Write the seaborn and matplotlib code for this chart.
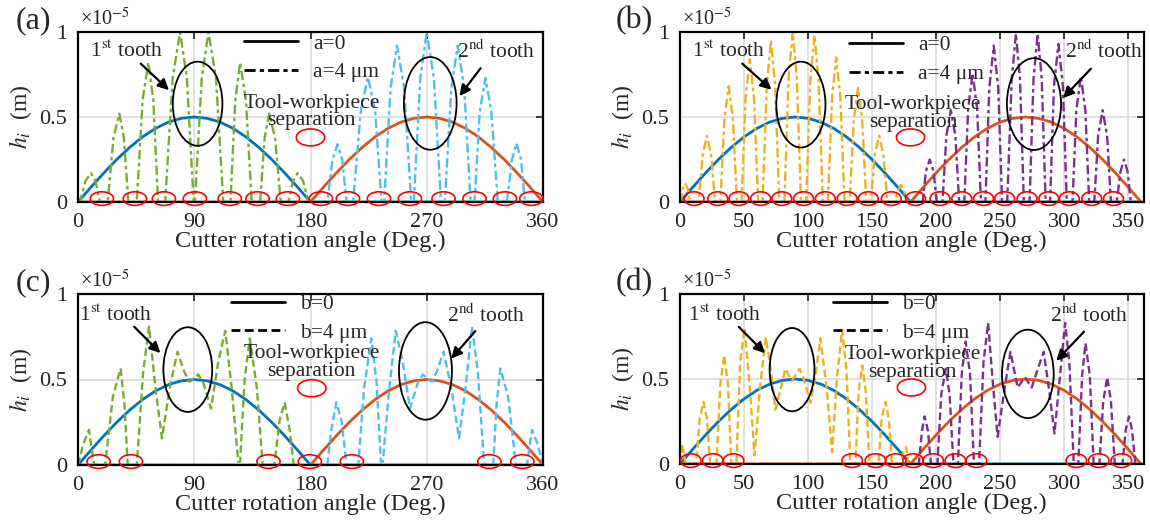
import matplotlib
matplotlib.use("Agg")
import matplotlib.pyplot as plt
from matplotlib.patches import Ellipse
from matplotlib.lines import Line2D
import seaborn as sns

# ---------------- data (values in units of 1e-5 m) ----------------
# nominal (runout-free) chip thickness, tooth 1 and tooth 2
sol1_x = [0, 10, 20, 30, 40, 50, 60, 70, 80, 90, 100, 110, 120, 130, 140, 150, 160, 170, 180, 360]
sol1_y = [0, 0.087, 0.171, 0.25, 0.321, 0.383, 0.433, 0.47, 0.492, 0.5, 0.492, 0.47, 0.433, 0.383, 0.321, 0.25, 0.171, 0.087, 0, 0]
sol2_x = [0, 180, 190, 200, 210, 220, 230, 240, 250, 260, 270, 280, 290, 300, 310, 320, 330, 340, 350, 360]
sol2_y = [0, 0, 0.087, 0.171, 0.25, 0.321, 0.383, 0.433, 0.47, 0.492, 0.5, 0.492, 0.47, 0.433, 0.383, 0.321, 0.25, 0.171, 0.087, 0]

# (a) a = 4 um, cutter rotation angle 0..360
a1_x = [0, 1.5, 5.8, 10, 13.5, 17, 23, 27.5, 32, 35.5, 39, 45.5, 50, 54.5, 58.3, 62, 67.5, 73.3, 79, 84.3, 89.5,
        90.5, 95.8, 101, 106.8, 112.5, 118, 121.8, 125.5, 130, 134.5, 141, 144.5, 148, 152.5, 157, 163, 166.5, 170,
        174.3, 178.5, 180, 360]
a1_y = [0, 0, 0.124, 0.17, 0.124, 0, 0, 0.38, 0.52, 0.38, 0, 0, 0.6, 0.82, 0.6, 0, 0, 0.73, 1.0, 0.73, 0,
        0, 0.73, 1.0, 0.73, 0, 0, 0.6, 0.82, 0.6, 0, 0, 0.38, 0.52, 0.38, 0, 0, 0.124, 0.17,
        0.124, 0, 0, 0]
a2_x = [0, 180, 193, 197, 201, 204.5, 208, 213, 219, 224.5, 230, 235, 237, 242, 247, 252.5, 258, 260, 265, 270,
        275.5, 281, 284, 289, 294, 299, 304, 307, 311, 315.5, 320, 325, 332, 336, 339.5, 343, 346, 360]
a2_y = [0, 0, 0, 0.25, 0.34, 0.25, 0, 0, 0.54, 0.735, 0.54, 0, 0, 0.67, 0.92, 0.67, 0, 0, 0.73, 1.0,
        0.73, 0, 0, 0.67, 0.92, 0.67, 0, 0, 0.53, 0.73, 0.53, 0, 0, 0.25, 0.345, 0.25, 0, 0]
a_sep = [18.5, 44, 66.5, 90.5, 117.5, 139, 162.5, 188, 209, 233, 257, 283, 307, 330.5, 351]

# (b)
b1_x = [0, 0.5, 2.3, 4, 6, 8, 14.5, 17.8, 21, 24.2, 27.5, 31.5, 34.8, 38, 41.2, 44.5, 48, 51.2, 54.5, 57.8, 61,
        64.5, 67.8, 71, 74.3, 77.5, 81.5, 84.8, 88, 91.2, 94.5, 98.5, 101.8, 105, 108.2, 111.5, 115.5, 118.8, 122,
        125.2, 128.5, 132.5, 135.8, 139, 142.2, 145.5, 149, 152.2, 155.5, 158.8, 162, 168, 170.2, 172.5, 174.8,
        177, 180, 360]
b1_y = [0, 0, 0.08, 0.11, 0.08, 0, 0, 0.28, 0.39, 0.28, 0, 0, 0.5, 0.68, 0.5, 0, 0, 0.61, 0.84, 0.61, 0,
        0, 0.69, 0.95, 0.69, 0, 0, 0.73, 1.0, 0.73, 0, 0, 0.72, 0.98, 0.72, 0, 0, 0.62, 0.85,
        0.62, 0, 0, 0.49, 0.67, 0.49, 0, 0, 0.28, 0.39, 0.28, 0, 0, 0.07, 0.1, 0.07,
        0, 0, 0]
b2_x = [0, 180, 189.5, 192, 195, 198, 200.5, 205, 208, 211.5, 215, 218, 222, 225, 228.5, 232, 235, 238.5, 241.5,
        245, 248.5, 251.5, 255.5, 259, 262.3, 265.5, 268.5, 273, 276, 279.3, 282.5, 285.5, 289, 292, 295.5, 299,
        302, 306.5, 309.5, 313, 316.5, 319.5, 323.5, 326.5, 330, 333.5, 336.5, 341, 344, 346.7, 349.5, 352, 360]
b2_y = [0, 0, 0, 0.18, 0.25, 0.18, 0, 0, 0.39, 0.54, 0.39, 0, 0, 0.55, 0.757, 0.55, 0, 0, 0.67,
        0.92, 0.67, 0, 0, 0.72, 0.99, 0.72, 0, 0, 0.72, 0.99, 0.72, 0, 0, 0.68, 0.93, 0.68,
        0, 0, 0.54, 0.74, 0.54, 0, 0, 0.39, 0.54, 0.39, 0, 0, 0.18, 0.25, 0.18, 0, 0]
b_sep = [11, 29.5, 46, 63, 79.5, 96.5, 113.5, 130.5, 147, 165, 184, 203, 220, 237, 253.5, 271, 288, 304, 321.5, 338.5]

# (c) b = 4 um
c1_x = [0, 4, 8.5, 10.5, 12.5, 21, 27, 33, 36, 38.5, 45.5, 50.5, 55, 60, 65, 71, 77, 82, 86, 89.5, 93, 97, 103,
        108.5, 114, 119, 124, 125.5, 129, 133, 138.5, 143, 152, 156, 160, 164, 167, 180, 360]
c1_y = [0, 0.12, 0.205, 0.1, 0, 0, 0.4, 0.565, 0.35, 0, 0, 0.55, 0.81, 0.45, 0.156, 0.45, 0.663, 0.55, 0.487, 0.5,
        0.53, 0.48, 0.33, 0.6, 0.785, 0.45, 0.02, 0.02, 0.5, 0.74, 0.45, 0, 0, 0.26, 0.366, 0.2, 0, 0, 0]
c2_x = [0, 180, 193, 196, 200, 204, 208, 217, 221.5, 227, 231, 234.5, 236, 241, 246, 251.5, 257, 263, 267, 270.5,
        274, 278, 283, 289, 295, 300, 305, 309.5, 314.5, 321.5, 324, 327, 333, 339, 347.5, 349.5, 351.5, 356, 360]
c2_y = [0, 0, 0, 0.2, 0.366, 0.26, 0, 0, 0.45, 0.74, 0.5, 0.02, 0.02, 0.45, 0.785, 0.6, 0.33, 0.48, 0.53, 0.5,
        0.487, 0.55, 0.663, 0.45, 0.156, 0.45, 0.81, 0.55, 0, 0, 0.35, 0.565, 0.4, 0, 0, 0.1, 0.205, 0.12, 0]
c_sep = [16, 41, 147.5, 179.5, 212, 318.5, 344]

# (d)
d1_x = [0, 1.5, 4.5, 12.5, 15.5, 18.3, 21, 23.5, 28.5, 31.5, 34.5, 37.5, 40, 44, 47, 50.4, 54, 58.2, 62.5, 67, 71,
        74.4, 78, 82.2, 85, 87.4, 90, 93.4, 97.5, 101.8, 105.5, 109.6, 114.5, 118.8, 122.5, 126.6, 130, 133, 137,
        139.5, 142.3, 145, 148, 155, 157.5, 160.5, 163, 165.5, 172, 174.5, 176.5, 178.5, 180, 360]
d1_y = [0, 0.12, 0, 0, 0.27, 0.366, 0.27, 0, 0, 0.47, 0.64, 0.47, 0, 0, 0.6, 0.8, 0.5, 0.05, 0.45, 0.745, 0.55,
        0.32, 0.42, 0.56, 0.52, 0.49, 0.52, 0.56, 0.48, 0.36, 0.5, 0.74, 0.45, 0.07, 0.5, 0.79, 0.55, 0, 0,
        0.43, 0.58, 0.43, 0, 0, 0.27, 0.366, 0.27, 0, 0, 0.07, 0.1, 0, 0, 0]
d2_x = [0, 180, 186.5, 189, 191, 193.5, 196, 201, 204, 207.5, 210.5, 213.5, 217, 220, 223, 226.5, 229.5, 233.5,
        237, 240.6, 244, 248, 253, 258, 261, 263.6, 266.5, 269.4, 272, 274.6, 279, 284, 288.5, 292.4, 296.5,
        300.7, 304, 307.5, 311, 314, 316.6, 320, 323, 327.5, 330.5, 333.6, 336.5, 339.5, 345.5, 348, 350.6, 353,
        355.5, 360]
d2_y = [0, 0, 0, 0.2, 0.28, 0.2, 0, 0, 0.41, 0.56, 0.41, 0, 0, 0.53, 0.72, 0.53, 0, 0,
        0.6, 0.83, 0.5, 0.16, 0.42, 0.66, 0.55, 0.45, 0.48, 0.51, 0.48, 0.45, 0.55, 0.66, 0.42, 0.18, 0.5,
        0.83, 0.6, 0, 0, 0.52, 0.71, 0.52, 0, 0, 0.37, 0.51, 0.37, 0, 0, 0.2, 0.28, 0.2,
        0, 0]
d_sep = [8.5, 25.6, 41.8, 134.4, 152.6, 168.4, 182, 197.7, 215, 231.4, 309.5, 327, 344.6]

panel_tags = ["(a)", "(b)", "(c)", "(d)"]
legend_labels = [["a=0", "a=4 μm"], ["a=0", "a=4 μm"], ["b=0", "b=4 μm"], ["b=0", "b=4 μm"]]
xticks_deg = [0, 90, 180, 270, 360]
xticks_50 = [0, 50, 100, 150, 200, 250, 300, 350]
yticks = [0, 0.5, 1]
ytick_labels = ["0", "0.5", "1"]

# ---------------- style ----------------
sns.set_theme(style="white")
plt.rcParams["font.family"] = ["Liberation Serif", "DejaVu Serif"]
plt.rcParams["mathtext.fontset"] = "stix"

BLUE, ORANGE = "#0072BD", "#D95319"
GREEN, CYAN = "#77AC30", "#4DBEEE"
YELLOW, PURPLE = "#EDB120", "#7E2F8E"
DASHDOT = (0, (4, 1.5, 1.5, 1.5))
DASHED = (0, (3.2, 1.6))

fig = plt.figure(figsize=(11.5, 5.32), dpi=100)
W, H = 1150, 532

def add_ax(left, right, top, bottom):
    return fig.add_axes([left / W, 1 - bottom / H, (right - left) / W, (bottom - top) / H])

axes = [add_ax(78, 543, 32, 202), add_ax(680, 1143.6, 32, 202),
        add_ax(78, 543, 294, 465), add_ax(680, 1143.6, 294, 464)]

panels = [
    dict(t1=(a1_x, a1_y), t2=(a2_x, a2_y), c1=GREEN, c2=CYAN, ls=DASHDOT, sep=a_sep, sepw=18, xt=xticks_deg, xmax=360,
         e1=(92.6, 0.578, 38.4, 0.495), e2=(272.7, 0.58, 40.8, 0.545),
         txt1=(38, 0.884), ar1=((47, 0.825), (72, 0.647)), txt2=(324, 0.884), ar2=((313, 0.80), (294, 0.61)),
         sep_txt=(181, 0.53), sep_ell=(180, 0.38), leg=(0.358, 0.99)),
    dict(t1=(b1_x, b1_y), t2=(b2_x, b2_y), c1=YELLOW, c2=PURPLE, ls=DASHDOT, sep=b_sep, sepw=15.5, xt=xticks_50, xmax=362,
         e1=(94.4, 0.573, 38.4, 0.505), e2=(276.4, 0.576, 42.3, 0.54),
         txt1=(37.8, 0.884), ar1=((47, 0.825), (73, 0.65)), txt2=(331.5, 0.884), ar2=((322.4, 0.796), (297.6, 0.6)),
         sep_txt=(182, 0.52), sep_ell=(180, 0.38), leg=(0.365, 0.98)),
    dict(t1=(c1_x, c1_y), t2=(c2_x, c2_y), c1=GREEN, c2=CYAN, ls=DASHED, sep=c_sep, sepw=18, xt=xticks_deg, xmax=360,
         e1=(85, 0.558, 37.8, 0.495), e2=(269, 0.55, 41, 0.57),
         txt1=(29.2, 0.877), ar1=((42, 0.82), (65.3, 0.643)), txt2=(316, 0.873), ar2=((309, 0.795), (287.5, 0.61)),
         sep_txt=(181, 0.6), sep_ell=(181, 0.449), leg=(0.33, 1.0)),
    dict(t1=(d1_x, d1_y), t2=(d2_x, d2_y), c1=YELLOW, c2=PURPLE, ls=DASHED, sep=d_sep, sepw=16, xt=xticks_50, xmax=362,
         e1=(87.5, 0.555, 35, 0.49), e2=(271.6, 0.53, 40.4, 0.52),
         txt1=(35.2, 0.876), ar1=((44.4, 0.818), (67.9, 0.64)), txt2=(319.7, 0.876), ar2=((317, 0.79), (292.3, 0.595)),
         sep_txt=(181.5, 0.59), sep_ell=(180.7, 0.45), leg=(0.33, 1.0)),
]

for k, (ax, p) in enumerate(zip(axes, panels)):
    ax.set_facecolor("white")
    sns.lineplot(x=sol1_x, y=sol1_y, ax=ax, color=BLUE, lw=2.0, estimator=None, sort=False)
    sns.lineplot(x=sol2_x, y=sol2_y, ax=ax, color=ORANGE, lw=2.0, estimator=None, sort=False)
    sns.lineplot(x=p["t1"][0], y=p["t1"][1], ax=ax, color=p["c1"], lw=1.7, linestyle=p["ls"],
                 estimator=None, sort=False)
    sns.lineplot(x=p["t2"][0], y=p["t2"][1], ax=ax, color=p["c2"], lw=1.7, linestyle=p["ls"],
                 estimator=None, sort=False)

    ax.set_xlim(0, p["xmax"])
    ax.set_ylim(0, 1)
    ax.set_xticks(p["xt"])
    ax.set_xticklabels([str(v) for v in p["xt"]])
    ax.set_yticks(yticks)
    ax.set_yticklabels(ytick_labels)
    ax.grid(True, color="#dcdcdc", lw=1.2)
    ax.set_axisbelow(True)
    for s in ax.spines.values():
        s.set_color("black")
        s.set_linewidth(1.6)
        s.set_visible(True)
    ax.tick_params(direction="in", top=True, right=True, length=5, width=1.2, labelsize=16,
                   colors="#222222", pad=8)

    # separation markers along zero
    for xs in p["sep"]:
        ax.add_patch(Ellipse((xs, 0.02), p["sepw"], 0.08, fill=False, ec="red", lw=1.2, clip_on=False, zorder=5))
    # tooth ellipses
    for e in (p["e1"], p["e2"]):
        ax.add_patch(Ellipse((e[0], e[1]), e[2], e[3], fill=False, ec="black", lw=1.3, zorder=6))
    # tooth labels and arrows
    ax.text(p["txt1"][0], p["txt1"][1], "1$^{\\rm st}$ tooth", ha="center", va="center", fontsize=15.5, zorder=7)
    ax.text(p["txt2"][0], p["txt2"][1], "2$^{\\rm nd}$ tooth", ha="center", va="center", fontsize=15.5, zorder=7)
    for ar in (p["ar1"], p["ar2"]):
        ax.annotate("", xy=ar[1], xytext=ar[0],
                    arrowprops=dict(arrowstyle="-|>", lw=1.6, color="black", mutation_scale=16), zorder=7)
    ax.text(p["sep_txt"][0], p["sep_txt"][1], "Tool-workpiece\nseparation", ha="center", va="center",
            fontsize=15.5, linespacing=0.9, zorder=7)
    ax.add_patch(Ellipse(p["sep_ell"], 22, 0.1, fill=False, ec="red", lw=1.2, zorder=6))

    # legend
    handles = [Line2D([], [], color="black", lw=2.0),
               Line2D([], [], color="black", lw=2.0, linestyle=p["ls"])]
    ax.legend(handles, legend_labels[k], loc="upper left", bbox_to_anchor=p["leg"], frameon=False,
              fontsize=15.5, handlelength=2.5, handletextpad=0.7, labelspacing=0.4, borderpad=0,
              borderaxespad=0)

    ax.set_xlabel("Cutter rotation angle (Deg.)", fontsize=17.5)
    ax.xaxis.set_label_coords(0.5, -0.17)
    ax.set_ylabel("$h_i$  (m)", fontsize=17)
    ax.yaxis.set_label_coords(-0.095, 0.5)
    ax.text(0.005, 1.01, "×10$^{-5}$", transform=ax.transAxes, ha="left", va="bottom", fontsize=14.5,
            color="#222222")
    ax.text(-0.058, 1.065, panel_tags[k], transform=ax.transAxes, ha="right", va="center", fontsize=23)

fig.savefig("out.png", dpi=100, facecolor="white")
